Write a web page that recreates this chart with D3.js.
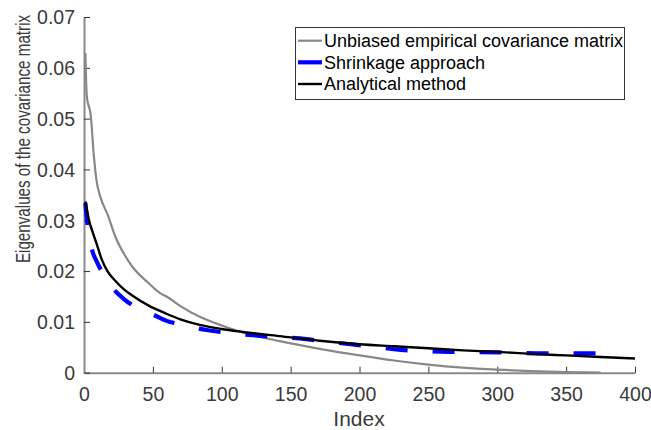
<!DOCTYPE html>
<html><head><meta charset="utf-8">
<script src="https://cdn.jsdelivr.net/npm/d3@7"></script>
<style>body{margin:0;background:#fff}svg{display:block}text{font-family:"Liberation Sans",Arial,sans-serif}</style>
</head><body><svg id="c" width="651" height="430"></svg>
<script>
const xTicks = [0,50,100,150,200,250,300,350,400];
const yTicks = [0,0.01,0.02,0.03,0.04,0.05,0.06,0.07];
const yTickLabels = ["0","0.01","0.02","0.03","0.04","0.05","0.06","0.07"];
const seriesNames = ["Unbiased empirical covariance matrix","Shrinkage approach","Analytical method"];

const unbiasedIdx = [1,2,5,7,9,12,17,23,29,35,47,55,61,70,84,100,113,142,171,200,225,250,275,300,325,350,375];
const unbiasedVal = [0.0629,0.0545,0.0504,0.0432,0.0380,0.0345,0.0312,0.0266,0.0234,0.0209,0.0176,0.0157,0.0148,0.0131,0.0110,0.0093,0.0081,0.0062,0.0047,0.0034,0.0024,0.0016,0.0010,0.0006,0.0003,0.00012,0.00003];

const shrinkIdx = [1,2,4,6,9,13,17,22,29,35,45,51,60,70,89,110,130,154,180,204,230,265,300,335,375];
const shrinkVal = [0.0334,0.0305,0.0265,0.0240,0.0220,0.0199,0.0183,0.0163,0.0145,0.0133,0.0119,0.0113,0.0102,0.0095,0.0084,0.0077,0.0072,0.0068,0.0060,0.0053,0.0045,0.0041,0.0040,0.0038,0.0038];

const analyticIdx = [1,2,4,6,9,13,17,23,29,35,47,59,70,84,100,113,142,171,200,225,250,275,300,325,350,375,400];
const analyticVal = [0.0337,0.0322,0.0296,0.0279,0.0255,0.0222,0.0200,0.0180,0.0164,0.0152,0.0132,0.0117,0.0105,0.0094,0.0086,0.0081,0.0072,0.0063,0.0056,0.0052,0.0048,0.0044,0.0041,0.0037,0.0034,0.0031,0.0028];

const svg = d3.select("#c");
const x = d3.scaleLinear().domain([0,400]).range([84,635]);
const y = d3.scaleLinear().domain([0,0.07]).range([372.7,17]);

const series = [
  {name: seriesNames[0], idx: unbiasedIdx, val: unbiasedVal, color:"#888888", w:2.2, dash:null},
  {name: seriesNames[1], idx: shrinkIdx, val: shrinkVal, color:"#0000ff", w:4.2, dash:"22,25"},
  {name: seriesNames[2], idx: analyticIdx, val: analyticVal, color:"#000000", w:2.4, dash:null}
];

const xAxis = d3.axisBottom(x).tickValues(xTicks).tickSizeInner(-6).tickSizeOuter(0).tickPadding(14);
const yAxis = d3.axisLeft(y).tickValues(yTicks).tickFormat((d,i)=>yTickLabels[i]).tickSizeInner(-6).tickSizeOuter(0).tickPadding(9);

const gx = svg.append("g").attr("transform","translate(0,372.7)").call(xAxis);
const gy = svg.append("g").attr("transform","translate(84,0)").call(yAxis);
[gx,gy].forEach(g=>{
  g.select(".domain").attr("stroke","#8a8a8a").attr("stroke-width",2);
  g.selectAll(".tick line").attr("stroke","#333").attr("stroke-width",1);
  g.selectAll(".tick text").attr("fill","#3a3a3a").style("font-size","19.5px").style("font-family","'Liberation Sans',Arial,sans-serif");
});
gy.selectAll(".tick text").attr("dy","0.35em");

const line = d3.line().x(d=>x(d[0])).y(d=>y(d[1])).curve(d3.curveMonotoneX);
series.forEach(s=>{
  const pts = s.idx.map((v,i)=>[v,s.val[i]]);
  const p = svg.append("path").datum(pts).attr("d",line)
    .attr("fill","none").attr("stroke",s.color).attr("stroke-width",s.w)
    .attr("stroke-linejoin","round");
  if (s.dash) p.attr("stroke-dasharray",s.dash);
});

svg.append("text").attr("x",359).attr("y",426).attr("text-anchor","middle")
  .attr("fill","#3a3a3a").style("font-size","21px").text("Index");
svg.append("text").attr("transform","translate(30,139) rotate(-90) scale(0.76,1)").attr("text-anchor","middle")
  .attr("fill","#3a3a3a").style("font-size","20px")
  .text("Eigenvalues of the covariance matrix");

const lg = svg.append("g");
lg.append("rect").attr("x",295.5).attr("y",27.5).attr("width",329).attr("height",72)
  .attr("fill","#fff").attr("stroke","#333").attr("stroke-width",1);
const rowY = [40.7,62.3,84];
series.forEach((s,i)=>{
  lg.append("line").attr("x1",298).attr("x2",322).attr("y1",rowY[i]).attr("y2",rowY[i])
    .attr("stroke",s.color).attr("stroke-width",s.w);
  lg.append("text").attr("x",324).attr("y",rowY[i]).attr("dy","0.35em")
    .attr("fill","#000").style("font-size","18px").text(s.name);
});
</script></body></html>
